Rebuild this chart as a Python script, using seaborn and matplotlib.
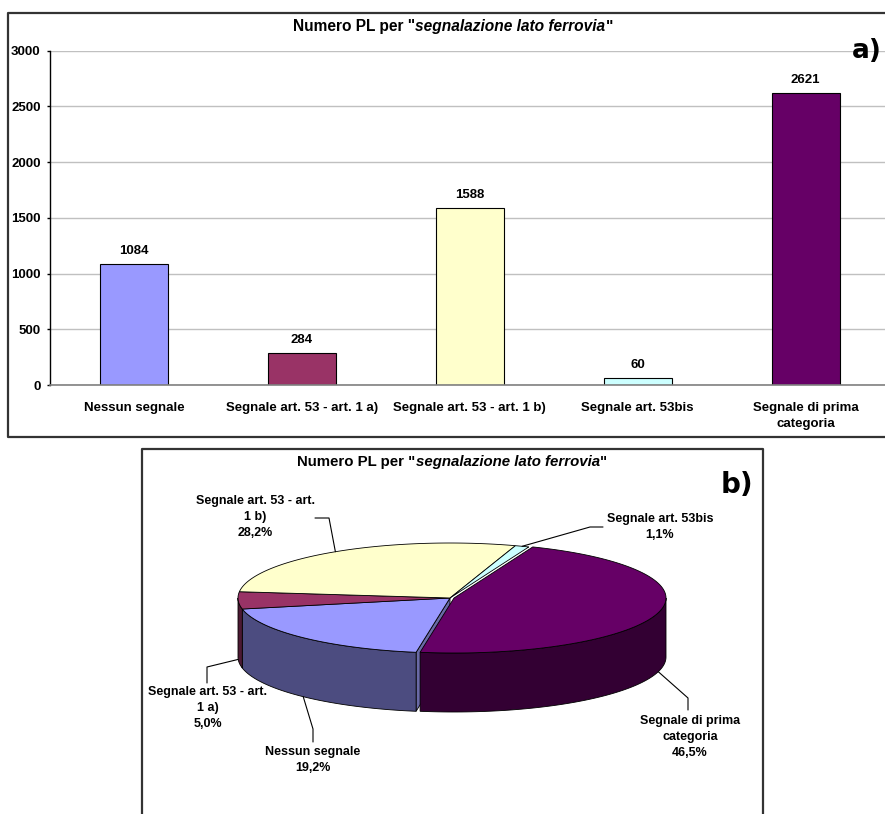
import numpy as np
import matplotlib
matplotlib.use("Agg")
import matplotlib.pyplot as plt
import seaborn as sns
import pandas as pd
from matplotlib.patches import Polygon

# ---------------- data ----------------
categories = ["Nessun segnale", "Segnale art. 53 - art. 1 a)", "Segnale art. 53 - art. 1 b)",
              "Segnale art. 53bis", "Segnale di prima categoria"]
tick_labels = ["Nessun segnale", "Segnale art. 53 - art. 1 a)", "Segnale art. 53 - art. 1 b)",
               "Segnale art. 53bis", "Segnale di prima\ncategoria"]
values = [1084, 284, 1588, 60, 2621]
pie_labels = ["Nessun segnale", "Segnale art. 53 - art.\n1 a)", "Segnale art. 53 - art.\n1 b)",
              "Segnale art. 53bis", "Segnale di prima\ncategoria"]
yticks = [0, 500, 1000, 1500, 2000, 2500, 3000]
title_parts = [('Numero PL per "', "normal"), ("segnalazione lato ferrovia", "italic"), ('"', "normal")]

# ---------------- style ----------------
colors = ["#9999FF", "#993366", "#FFFFCC", "#CCFFFF", "#660066"]
side_colors = ["#4C4C80", "#4C1933", "#808066", "#668080", "#330033"]
face_colors = ["#6A6AA6", "#6B2447", "#A3A382", "#85A3A3", "#470047"]
slice_shift = [(0, 0), (0, 0), (0, 0), (0, 0), (4, 0)]

sns.set_style("white")
plt.rcParams["font.family"] = ["Liberation Sans", "DejaVu Sans"]
plt.rcParams["text.color"] = "black"
plt.rcParams["xtick.color"] = "black"
plt.rcParams["ytick.color"] = "black"
plt.rcParams["xtick.labelcolor"] = "black"
plt.rcParams["ytick.labelcolor"] = "black"

W, H = 885, 814
fig = plt.figure(figsize=(W / 100, H / 100), dpi=100)

# ---------------- bar chart (a) ----------------
ax_b = fig.add_axes([50 / W, 1 - 385 / H, (885 - 50) / W, (385 - 50.7) / H])
df = pd.DataFrame({"cat": categories, "val": values})
sns.barplot(data=df, x="cat", y="val", hue="cat", palette=colors, width=0.405,
            edgecolor="#000000", linewidth=0.8, saturation=1, legend=False, ax=ax_b)
ax_b.set_xlim(-0.5, 4.473)
ax_b.set_ylim(0, 3000)
ax_b.set_yticks(yticks)
ax_b.yaxis.grid(True, color="#C0C0C0", lw=1)
ax_b.xaxis.grid(False)
ax_b.set_axisbelow(True)
ax_b.set_xlabel("")
ax_b.set_ylabel("")
for s in ("top", "right"):
    ax_b.spines[s].set_visible(False)
ax_b.spines["left"].set_color("black")
ax_b.spines["left"].set_linewidth(1)
ax_b.spines["bottom"].set_color("#808080")
ax_b.spines["bottom"].set_linewidth(1.2)
ax_b.set_xticks(range(len(categories)))
ax_b.set_xticklabels(tick_labels, fontsize=9.5, fontweight="bold")
for lbl in ax_b.get_xticklabels():
    lbl.set_linespacing(1.45)
    lbl.set_color("black")
ax_b.set_xticks([i + 0.5 for i in range(len(categories) - 1)], minor=True)
ax_b.tick_params(axis="x", which="major", length=0, pad=12.5)
ax_b.tick_params(axis="x", which="minor", length=4, width=1, color="#808080", direction="out")
ax_b.tick_params(axis="y", length=2.5, width=1, pad=4.3, labelsize=9.5, color="black", left=True)
for lbl in ax_b.get_yticklabels():
    lbl.set_fontweight("bold")
    lbl.set_color("black")
for cont in ax_b.containers:
    ax_b.bar_label(cont, fmt="%d", padding=5, fontsize=9.5, fontweight="bold", color="black")

# ---------------- overlay in pixel coordinates ----------------
ov = fig.add_axes([0, 0, 1, 1])
ov.set_xlim(0, W)
ov.set_ylim(H, 0)
ov.axis("off")
ov.patch.set_alpha(0)

frame_kw = dict(color="#333333", lw=1.6, solid_capstyle="projecting")
ov.plot([W + 5, 8, 8, W + 5], [13, 13, 437, 437], **frame_kw)
ov.plot([142, 142, 763, 763], [H + 5, 449, 449, H + 5], **frame_kw)

ov.text(852, 51, "a)", fontsize=19, fontweight="bold", family="DejaVu Sans", ha="left", va="center",
        color="black")
ov.text(721, 485, "b)", fontsize=20, fontweight="bold", family="DejaVu Sans", ha="left", va="center",
        color="black")

fig.canvas.draw()
renderer = fig.canvas.get_renderer()


def mixed_title(xc, yc, size):
    ts = []
    for s, st in title_parts:
        t = ov.text(0, yc, s, fontsize=size, fontweight="bold", style=st, ha="left", va="center",
                    color="black")
        ts.append(t)
    ws = [t.get_window_extent(renderer).width for t in ts]
    x = xc - sum(ws) / 2
    for t, w in zip(ts, ws):
        t.set_x(x)
        x += w


mixed_title(453, 27, 11.2)
mixed_title(452, 462, 10.8)

# ---------------- 3D pie (b) ----------------
total = float(sum(values))
fracs = np.array(values) / total
start = 189.2
angles = start + 360 * np.concatenate([[0], np.cumsum(fracs)])
cx, cy, rx, ry, depth = 450, 598, 212, 55, 59


def pt(t, dz=0.0, sh=(0, 0)):
    r = np.radians(t)
    return (cx + sh[0] + rx * np.sin(r), cy + sh[1] - ry * np.cos(r) + dz)


# radial face of first slice (visible through the small gap at the front)
a = angles[0]
face = [(cx, cy), pt(a), pt(a, depth), (cx, cy + depth)]
ov.add_patch(Polygon(face, closed=True, fc=face_colors[0], ec="black", lw=0.6))

for i in range(len(values)):
    a0, a1 = angles[i], angles[i + 1]
    sh = slice_shift[i]
    for k in (-360, 0, 360):
        lo, hi = max(a0, 90 + k), min(a1, 270 + k)
        if hi > lo:
            ts = np.linspace(lo, hi, 80)
            poly = [pt(t, 0, sh) for t in ts] + [pt(t, depth, sh) for t in ts[::-1]]
            ov.add_patch(Polygon(poly, closed=True, fc=side_colors[i], ec="black", lw=0.6))

for i in range(len(values)):
    sh = slice_shift[i]
    ts = np.linspace(angles[i], angles[i + 1], 120)
    poly = [(cx + sh[0], cy + sh[1])] + [pt(t, 0, sh) for t in ts]
    ov.add_patch(Polygon(poly, closed=True, fc=colors[i], ec="black", lw=0.6))

# labels with leader lines
elbows = [[(313, 729), (313, 742)],
          [(207, 667), (207, 683)],
          [(329, 518), (315, 518)],
          [(590, 527), (603, 527)],
          [(688, 698), (688, 710)]]
label_pos = [(313, 746), (208, 686), (255, 495), (660, 513), (690, 715)]

for i in range(len(values)):
    mid = (angles[i] + angles[i + 1]) / 2
    c = np.cos(np.radians(mid))
    anchor = pt(mid, 0 if c > 0 else depth, slice_shift[i])
    path = [anchor] + elbows[i]
    ov.plot([p[0] for p in path], [p[1] for p in path], color="black", lw=0.8)
    pct = f"{fracs[i] * 100:.1f}".replace(".", ",") + "%"
    ov.text(label_pos[i][0], label_pos[i][1], pie_labels[i] + "\n" + pct, fontsize=9,
            fontweight="bold", ha="center", va="top", linespacing=1.45, color="black")

fig.savefig("out.png", dpi=100)
